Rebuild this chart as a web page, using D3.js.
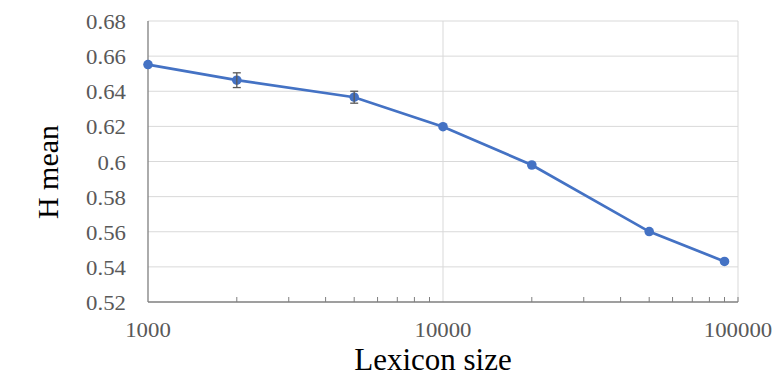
<!DOCTYPE html>
<html>
<head>
<meta charset="utf-8">
<script src="https://cdn.jsdelivr.net/npm/d3@7"></script>
<style>
  body { margin: 0; background: #fff; }
</style>
</head>
<body>
<div id="chart"></div>
<script>
// data
var sizes = [1000, 2000, 5000, 10000, 20000, 50000, 90000]
var hMean = [0.6552, 0.6463, 0.6366, 0.6198, 0.598, 0.5601, 0.5431]
var errs = [0, 0.0042, 0.0034, 0, 0, 0, 0]
var yTicks = [0.52, 0.54, 0.56, 0.58, 0.6, 0.62, 0.64, 0.66, 0.68]
var xTicks = [1000, 10000, 100000]

var width = 781, height = 380
var margin = {left: 148, right: 43, top: 21, bottom: 78}
var serif = "'Liberation Serif', 'Times New Roman', serif"
var stretch = 1.14  // tick labels in the original look a bit wide

var svg = d3.select("#chart").append("svg")
  .attr("width", width)
  .attr("height", height)
  .style("font-family", serif)

var x = d3.scaleLog().domain([1000, 100000]).range([margin.left, width - margin.right])
var y = d3.scaleLinear().domain([0.52, 0.68]).range([height - margin.bottom, margin.top])

// horizontal grid
svg.append("g").selectAll("line").data(yTicks.slice(1)).enter().append("line")
  .attr("x1", x(1000)).attr("x2", x(100000))
  .attr("y1", d => y(d)).attr("y2", d => y(d))
  .attr("stroke", "#d9d9d9").attr("stroke-width", 1)

// vertical grid (major decades only)
svg.append("g").selectAll("line").data(xTicks.slice(1)).enter().append("line")
  .attr("x1", d => x(d)).attr("x2", d => x(d))
  .attr("y1", y(0.52)).attr("y2", y(0.68))
  .attr("stroke", "#d9d9d9").attr("stroke-width", 1)

// y axis
svg.append("line")
  .attr("x1", x(1000)).attr("x2", x(1000))
  .attr("y1", y(0.52)).attr("y2", y(0.68))
  .attr("stroke", "#7f7f7f").attr("stroke-width", 1.3)

svg.append("g").selectAll("text").data(yTicks).enter().append("text")
  .attr("transform", d => "translate(" + (x(1000) - 22) + "," + (y(d) + 8) + ") scale(" + stretch + ",1)")
  .attr("text-anchor", "end")
  .attr("fill", "#595959")
  .style("font-family", serif)
  .style("font-size", "20px")
  .text(d => d3.format("")(d))

// x axis with minor ticks pointing in
var minor = []
for (var dec = 1000; dec < 100000; dec *= 10) {
  for (var k = 2; k <= 9; k++) minor.push(dec * k)
}
minor.push(100000)
svg.append("line")
  .attr("x1", x(1000)).attr("x2", x(100000))
  .attr("y1", y(0.52)).attr("y2", y(0.52))
  .attr("stroke", "#7f7f7f").attr("stroke-width", 1.3)
svg.append("g").selectAll("line").data(minor).enter().append("line")
  .attr("x1", d => x(d)).attr("x2", d => x(d))
  .attr("y1", y(0.52)).attr("y2", y(0.52) - 5)
  .attr("stroke", "#7f7f7f").attr("stroke-width", 1)

svg.append("g").selectAll("text").data(xTicks).enter().append("text")
  .attr("transform", d => "translate(" + x(d) + "," + (y(0.52) + 35) + ") scale(" + stretch + ",1)")
  .attr("text-anchor", "middle")
  .attr("fill", "#595959")
  .style("font-family", serif)
  .style("font-size", "20px")
  .text(d => d)

// axis titles
svg.append("text")
  .attr("x", 433)
  .attr("y", 370)
  .attr("text-anchor", "middle")
  .attr("fill", "#000")
  .style("font-family", serif)
  .style("font-size", "31px")
  .text("Lexicon size")

svg.append("text")
  .attr("transform", "translate(58,172) rotate(-90)")
  .attr("text-anchor", "middle")
  .attr("fill", "#000")
  .style("font-family", serif)
  .style("font-size", "30px")
  .text("H mean")

// series
var pts = sizes.map((s, i) => ({s: s, v: hMean[i], e: errs[i]}))

var line = d3.line().x(d => x(d.s)).y(d => y(d.v))
svg.append("path")
  .datum(pts)
  .attr("d", line)
  .attr("fill", "none")
  .attr("stroke", "#4472c4")
  .attr("stroke-width", 2.75)

svg.append("g").selectAll("circle").data(pts).enter().append("circle")
  .attr("cx", d => x(d.s))
  .attr("cy", d => y(d.v))
  .attr("r", 4.8)
  .attr("fill", "#4472c4")

// error bars
var eb = svg.append("g").selectAll("g").data(pts.filter(d => d.e > 0)).enter().append("g")
  .attr("stroke", "#595959").attr("stroke-width", 1.3)
eb.append("line")
  .attr("x1", d => x(d.s)).attr("x2", d => x(d.s))
  .attr("y1", d => y(d.v - d.e)).attr("y2", d => y(d.v + d.e))
eb.append("line")
  .attr("x1", d => x(d.s) - 4).attr("x2", d => x(d.s) + 4)
  .attr("y1", d => y(d.v + d.e)).attr("y2", d => y(d.v + d.e))
eb.append("line")
  .attr("x1", d => x(d.s) - 4).attr("x2", d => x(d.s) + 4)
  .attr("y1", d => y(d.v - d.e)).attr("y2", d => y(d.v - d.e))
</script>
</body>
</html>
